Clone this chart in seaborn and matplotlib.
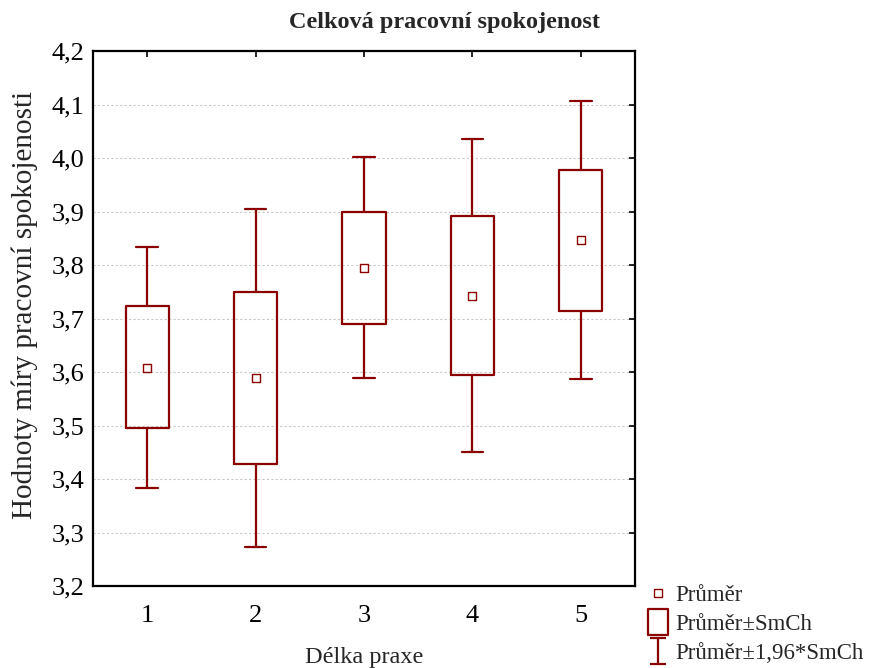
import numpy as np
import pandas as pd
import matplotlib
matplotlib.use('Agg')
import matplotlib.pyplot as plt
from matplotlib.path import Path
from matplotlib.lines import Line2D
import seaborn as sns

# Délka praxe vs. průměr, SmCh a 1,96*SmCh
skupiny = [1, 2, 3, 4, 5]
prumer = [3.607, 3.589, 3.794, 3.742, 3.847]
box_dolni = [3.495, 3.428, 3.690, 3.594, 3.714]
box_horni = [3.723, 3.750, 3.899, 3.892, 3.978]
vous_dolni = [3.383, 3.273, 3.589, 3.450, 3.587]
vous_horni = [3.834, 3.905, 4.002, 4.036, 4.107]
y_ticks = [3.2, 3.3, 3.4, 3.5, 3.6, 3.7, 3.8, 3.9, 4.0, 4.1, 4.2]

barva = '#8b0000'

sns.set_style('white')
plt.rcParams['font.family'] = ['Liberation Serif', 'DejaVu Serif']

df = pd.DataFrame({'Delka': skupiny, 'Prumer': prumer})

fig = plt.figure(figsize=(8.72, 6.68), dpi=100)
ax = fig.add_axes([0.1067, 0.1228, 0.6215, 0.8002])

stats = []
for i in range(len(skupiny)):
    stats.append({'med': prumer[i], 'q1': box_dolni[i], 'q3': box_horni[i],
                  'whislo': vous_dolni[i], 'whishi': vous_horni[i], 'fliers': []})
ax.bxp(stats, positions=skupiny, widths=0.4, showfliers=False, patch_artist=False,
       boxprops=dict(color=barva, linewidth=1.6),
       whiskerprops=dict(color=barva, linewidth=1.6),
       capprops=dict(color=barva, linewidth=1.6),
       medianprops=dict(visible=False), capwidths=0.2, zorder=3)

sns.scatterplot(data=df, x='Delka', y='Prumer', marker='s', s=40, facecolor='white',
                edgecolor=barva, linewidth=1.0, ax=ax, zorder=4)

ax.set_xlim(0.5, 5.5)
ax.set_ylim(3.2, 4.2)
ax.set_xticks(skupiny)
ax.set_xticklabels([str(s) for s in skupiny])
ax.set_yticks(y_ticks)
ax.set_yticklabels([f'{t:.1f}'.replace('.', ',') for t in y_ticks])
ax.grid(axis='y', color='#c8c8c8', linestyle=(0, (2, 2)), linewidth=0.8, zorder=0)
ax.set_axisbelow(True)
ax.tick_params(direction='in', length=4, width=1.2, top=True, right=True,
               labelsize=19, colors='black', pad=6)
ax.tick_params(axis='x', pad=14)
for s in ax.spines.values():
    s.set_color('black')
    s.set_linewidth(1.6)

ax.set_xlabel('Délka praxe', fontsize=17.5, labelpad=14)
ax.set_ylabel('Hodnoty míry pracovní spokojenosti', fontsize=21)
ax.yaxis.set_label_coords(-0.102, 0.525)
fig.suptitle('Celková pracovní spokojenost', fontsize=17.5, fontweight='bold', x=0.51, y=0.982)

# legenda
i_path = Path([(-0.3, 0.5), (0.3, 0.5), (0, 0.5), (0, -0.5), (-0.3, -0.5), (0.3, -0.5)],
              [Path.MOVETO, Path.LINETO, Path.MOVETO, Path.LINETO, Path.MOVETO, Path.LINETO])
r_path = Path([(-0.38, -0.5), (0.38, -0.5), (0.38, 0.5), (-0.38, 0.5), (-0.38, -0.5)],
              [Path.MOVETO, Path.LINETO, Path.LINETO, Path.LINETO, Path.CLOSEPOLY])
h1 = Line2D([], [], linestyle='none', marker='s', markersize=6, markerfacecolor='white',
            markeredgecolor=barva, markeredgewidth=1.0)
h2 = Line2D([], [], linestyle='none', marker=r_path, markersize=19, markerfacecolor='white',
            markeredgecolor=barva, markeredgewidth=1.6)
h3 = Line2D([], [], linestyle='none', marker=i_path, markersize=19, markerfacecolor='none',
            markeredgecolor=barva, markeredgewidth=1.6)
fig.legend([h1, h2, h3], ['Průměr', 'Průměr±SmCh', 'Průměr±1,96*SmCh'],
           loc='upper left', bbox_to_anchor=(0.732, 0.138), frameon=False, fontsize=16.5,
           handlelength=0.9, handletextpad=0.3, labelspacing=0.35, borderaxespad=0)

fig.savefig('out.png', dpi=100)
